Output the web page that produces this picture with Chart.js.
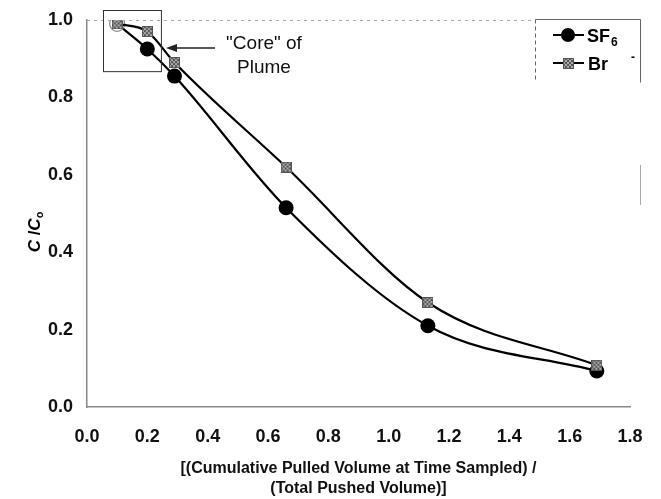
<!DOCTYPE html>
<html lang="en">
<head>
  <meta charset="utf-8">
  <title>C/Co vs pulled volume</title>
  <script src="https://cdn.jsdelivr.net/npm/chart.js@4.4.1/dist/chart.umd.min.js"></script>
  <style>
    body { margin: 0; background: #fff; }
    #wrap { width: 661px; height: 499px; }
  </style>
</head>
<body>
  <div id="wrap"><canvas id="chart" width="661" height="499"></canvas></div>
  <script>
    // values
    const volumeRatio = [0.1, 0.2, 0.29, 0.66, 1.13, 1.69];
    const sf6 = [0.99, 0.925, 0.855, 0.515, 0.21, 0.093];
    const bromide = [0.99, 0.97, 0.89, 0.62, 0.27, 0.108];
    const xTicks = [0, 0.2, 0.4, 0.6, 0.8, 1.0, 1.2, 1.4, 1.6, 1.8];
    const yTicks = [0, 0.2, 0.4, 0.6, 0.8, 1.0];

    const FONT = '"Liberation Sans", Arial, sans-serif';
    const toPts = (ys) => ys.map((y, i) => ({ x: volumeRatio[i], y: y }));

    // checkered grey marker for Br-
    function makeBrMarker() {
      const c = document.createElement('canvas');
      c.width = 11; c.height = 11;
      const g = c.getContext('2d');
      g.fillStyle = '#fff';
      g.fillRect(0, 0, 11, 11);
      for (let i = 0; i < 11; i += 2) {
        for (let j = 0; j < 11; j += 2) {
          g.fillStyle = ((i + j) / 2) % 2 ? '#555' : '#aaa';
          g.fillRect(i, j, 2, 2);
        }
      }
      g.strokeStyle = '#555';
      g.lineWidth = 1;
      g.strokeRect(0.5, 0.5, 10, 10);
      return c;
    }
    const brMarker = makeBrMarker();

    const extras = {
      id: 'extras',
      afterDraw(chart) {
        const ctx = chart.ctx;
        const xs = chart.scales.x, ys = chart.scales.y;
        const area = chart.chartArea;
        ctx.save();

        // faint plot border remnants
        ctx.strokeStyle = '#aaa';
        ctx.lineWidth = 1;
        ctx.setLineDash([3, 4]);
        ctx.beginPath();
        ctx.moveTo(area.left, area.top + 0.5);
        ctx.lineTo(535, area.top + 0.5);
        ctx.stroke();
        ctx.setLineDash([]);
        ctx.beginPath();
        ctx.moveTo(640.5, 165);
        ctx.lineTo(640.5, 205);
        ctx.stroke();

        // box round the "core" of the plume
        const bx0 = xs.getPixelForValue(0.053), bx1 = xs.getPixelForValue(0.245);
        const by0 = ys.getPixelForValue(1.026), by1 = ys.getPixelForValue(0.868);
        ctx.strokeStyle = '#333';
        ctx.lineWidth = 1;
        ctx.strokeRect(Math.round(bx0) + 0.5, Math.round(by0) + 0.5, bx1 - bx0, by1 - by0);

        // arrow
        const ay = 48;
        ctx.strokeStyle = '#222';
        ctx.lineWidth = 1.5;
        ctx.beginPath();
        ctx.moveTo(215, ay);
        ctx.lineTo(174, ay);
        ctx.stroke();
        ctx.fillStyle = '#222';
        ctx.beginPath();
        ctx.moveTo(166, ay);
        ctx.lineTo(177, ay - 4);
        ctx.lineTo(177, ay + 4);
        ctx.closePath();
        ctx.fill();

        ctx.fillStyle = '#111';
        ctx.textAlign = 'center';
        ctx.textBaseline = 'middle';
        ctx.font = '19px ' + FONT;
        ctx.fillText('"Core" of', 264, 44);
        ctx.fillText('Plume', 264, 68);

        // legend box
        ctx.strokeStyle = '#666';
        ctx.lineWidth = 1;
        ctx.beginPath();
        ctx.moveTo(535.5, 19.5);
        ctx.lineTo(640.5, 19.5);
        ctx.lineTo(640.5, 82.5);
        ctx.stroke();
        ctx.setLineDash([4, 3]);
        ctx.beginPath();
        ctx.moveTo(535.5, 19.5);
        ctx.lineTo(535.5, 82.5);
        ctx.stroke();
        ctx.setLineDash([]);

        // legend rows
        ctx.strokeStyle = '#000';
        ctx.lineWidth = 2;
        ctx.beginPath();
        ctx.moveTo(553, 35); ctx.lineTo(584, 35);
        ctx.moveTo(553, 63); ctx.lineTo(584, 63);
        ctx.stroke();
        ctx.fillStyle = '#000';
        ctx.beginPath();
        ctx.arc(568, 35, 7, 0, Math.PI * 2);
        ctx.fill();
        ctx.drawImage(brMarker, 563, 58);

        ctx.textAlign = 'left';
        ctx.textBaseline = 'alphabetic';
        ctx.font = 'bold 18px ' + FONT;
        ctx.fillText('SF', 587, 42);
        const w = ctx.measureText('SF').width;
        ctx.font = 'bold 12px ' + FONT;
        ctx.fillText('6', 588 + w, 46);
        ctx.font = 'bold 18px ' + FONT;
        ctx.fillText('Br', 588, 70);
        ctx.font = 'bold 12px ' + FONT;
        ctx.fillText('-', 631, 61);

        // y axis title C / Co
        ctx.translate(35, 232);
        ctx.rotate(-Math.PI / 2);
        ctx.textBaseline = 'middle';
        const big = 'bold 17px ' + FONT, bigI = 'italic bold 17px ' + FONT, sub = 'bold 11px ' + FONT;
        ctx.font = bigI;
        const w1 = ctx.measureText('C').width;
        ctx.font = big;
        const w2 = ctx.measureText(' /').width;
        ctx.font = sub;
        const w4 = ctx.measureText('o').width;
        let px = -(w1 * 2 + w2 + w4) / 2;
        ctx.font = bigI;
        ctx.fillText('C', px, 0); px += w1;
        ctx.font = big;
        ctx.fillText(' /', px, 0); px += w2;
        ctx.font = bigI;
        ctx.fillText('C', px, 0); px += w1;
        ctx.font = sub;
        ctx.fillText('o', px, 5);

        ctx.restore();
      }
    };

    new Chart(document.getElementById('chart'), {
      type: 'scatter',
      data: {
        datasets: [
          {
            label: 'Br-',
            data: toPts(bromide),
            showLine: true,
            borderColor: '#000',
            borderWidth: 2.2,
            cubicInterpolationMode: 'monotone',
            pointStyle: brMarker,
            pointRadius: 5
          },
          {
            label: 'SF6',
            data: toPts(sf6),
            showLine: true,
            borderColor: '#000',
            borderWidth: 2.2,
            cubicInterpolationMode: 'monotone',
            pointStyle: 'circle',
            pointRadius: 7.5,
            pointBackgroundColor: ['#fff', '#000', '#000', '#000', '#000', '#000'],
            pointBorderColor: ['#888', '#000', '#000', '#000', '#000', '#000'],
            pointBorderWidth: [1.2, 0, 0, 0, 0, 0]
          }
        ]
      },
      options: {
        responsive: false,
        animation: false,
        layout: { padding: { top: 20, right: 31, left: 0, bottom: 0 } },
        plugins: {
          legend: { display: false },
          tooltip: { enabled: false }
        },
        scales: {
          x: {
            type: 'linear',
            min: 0,
            max: 1.8,
            afterBuildTicks: (s) => { s.ticks = xTicks.map(v => ({ value: v })); },
            afterFit: (s) => { s.height = 92; },
            grid: { display: false, drawTicks: true, tickLength: 5, color: '#888' },
            border: { color: '#888', width: 1.5 },
            ticks: {
              color: '#111',
              font: { family: FONT, size: 18, weight: 'bold' },
              padding: 14,
              maxRotation: 0,
              callback: (v) => v.toFixed(1)
            },
            title: {
              display: true,
              text: ['[(Cumulative Pulled Volume at Time Sampled) /', '(Total Pushed Volume)]'],
              color: '#111',
              font: { family: FONT, size: 16, weight: 'bold', lineHeight: 1.25 },
              padding: { top: 4, bottom: 0 }
            }
          },
          y: {
            min: 0,
            max: 1.0,
            afterBuildTicks: (s) => { s.ticks = yTicks.map(v => ({ value: v })); },
            afterFit: (s) => { s.width = 87; },
            grid: { display: false, drawTicks: true, tickLength: 6, color: '#888' },
            border: { color: '#888', width: 1.5 },
            ticks: {
              color: '#111',
              font: { family: FONT, size: 18, weight: 'bold' },
              padding: 8,
              callback: (v) => v.toFixed(1)
            }
          }
        }
      },
      plugins: [extras]
    });
  </script>
</body>
</html>
